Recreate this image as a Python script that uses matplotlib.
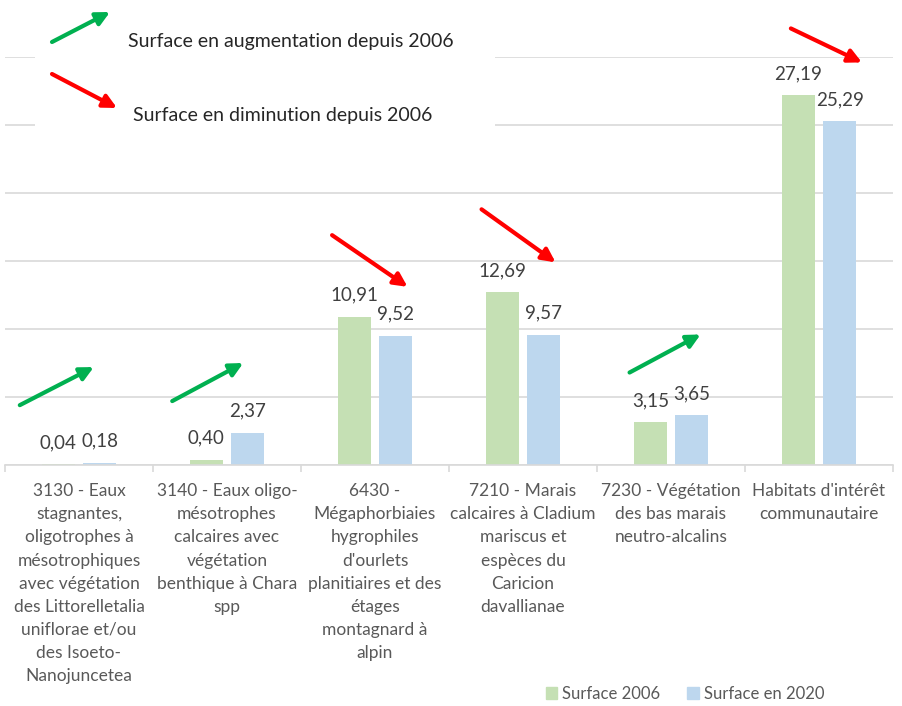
import matplotlib.pyplot as plt
from matplotlib.patches import Rectangle, Patch

plt.rcParams['font.family'] = ['Lato', 'DejaVu Sans']

categories = [
    "3130 - Eaux\nstagnantes,\noligotrophes à\nmésotrophiques\navec végétation\ndes Littorelletalia\nuniflorae et/ou\ndes Isoeto-\nNanojuncetea",
    "3140 - Eaux oligo-\nmésotrophes\ncalcaires avec\nvégétation\nbenthique à Chara\nspp",
    "6430 -\nMégaphorbiaies\nhygrophiles\nd'ourlets\nplanitiaires et des\nétages\nmontagnard à\nalpin",
    "7210 - Marais\ncalcaires à Cladium\nmariscus et\nespèces du\nCaricion\ndavallianae",
    "7230 - Végétation\ndes bas marais\nneutro-alcalins",
    "Habitats d'intérêt\ncommunautaire",
]
surface_2006 = [0.04, 0.40, 10.91, 12.69, 3.15, 27.19]
surface_2020 = [0.18, 2.37, 9.52, 9.57, 3.65, 25.29]
series_names = ["Surface 2006", "Surface en 2020"]

# tendance par catégorie : (queue, tête) en coordonnées catégorie / valeur
trend_arrows = [
    ("up", (-0.40, 4.4), (0.10, 7.2)),
    ("up", (0.63, 4.7), (1.11, 7.5)),
    ("down", (1.71, 16.9), (2.22, 13.1)),
    ("down", (2.72, 18.8), (3.22, 14.9)),
    ("up", (3.72, 6.8), (4.20, 9.6)),
    ("down", (4.81, 32.1), (5.29, 29.6)),
]

green = "#C5E0B4"
blue = "#BDD7EE"
arrow_colors = {"up": "#00B050", "down": "#FF0000"}
text_grey = "#595959"
grid_grey = "#D9D9D9"

fig = plt.figure(figsize=(9.03, 7.06), dpi=100)
ax = fig.add_axes([5 / 903, 1 - 465 / 706, 888 / 903, 408 / 706])

x = list(range(len(categories)))
w = 0.225
off = 0.139
b1 = ax.bar([i - off for i in x], surface_2006, w, color=green, zorder=2)
b2 = ax.bar([i + off for i in x], surface_2020, w, color=blue, zorder=2)

for bars, vals in ((b1, surface_2006), (b2, surface_2020)):
    for r, v in zip(bars, vals):
        ax.annotate(f"{v:.2f}".replace(".", ","),
                    (r.get_x() + r.get_width() / 2, v),
                    xytext=(0, 15.5), textcoords="offset points",
                    ha="center", va="center", fontsize=13.5, color="#404040")

ax.set_xlim(-0.5, len(categories) - 0.5)
ax.set_ylim(0, 30)
ax.set_yticks(range(0, 31, 5))
ax.yaxis.grid(True, color=grid_grey, lw=1.2)
ax.set_axisbelow(True)
ax.tick_params(axis="y", left=False, labelleft=False)
for s in ("top", "left", "right"):
    ax.spines[s].set_visible(False)
ax.spines["bottom"].set_color(grid_grey)
ax.spines["bottom"].set_linewidth(1.2)

ax.set_xticks(x)
ax.set_xticklabels(categories, fontsize=12.5, color=text_grey, linespacing=1.55, va="top")
ax.tick_params(axis="x", which="major", length=0, pad=13)
ax.set_xticks([i - 0.5 for i in range(len(categories) + 1)], minor=True)
ax.tick_params(axis="x", which="minor", length=5, color=grid_grey, width=1.2)

# cadre blanc de la légende des flèches
ax.add_patch(Rectangle((-0.297, 23.9), 3.11, 12, facecolor="white",
                       edgecolor="none", zorder=1.5, clip_on=False))

for kind, tail, head in trend_arrows:
    ax.annotate("", xy=head, xytext=tail, annotation_clip=False,
                arrowprops=dict(arrowstyle="-|>", color=arrow_colors[kind], lw=3,
                                mutation_scale=20, shrinkA=0, shrinkB=0), zorder=4)

# légende des flèches
fig_arrow = dict(arrowstyle="-|>", lw=3, mutation_scale=20, shrinkA=0, shrinkB=0)
fig.add_artist(plt.Annotation("", xy=(110, 694), xytext=(52, 664), xycoords="figure pixels",
                              arrowprops=dict(fig_arrow, color=arrow_colors["up"])))
fig.add_artist(plt.Annotation("", xy=(117, 598), xytext=(52, 632), xycoords="figure pixels",
                              arrowprops=dict(fig_arrow, color=arrow_colors["down"])))
fig.text(128 / 903, 1 - 42 / 706, "Surface en augmentation depuis 2006",
         fontsize=14, color="#262626", va="center", ha="left")
fig.text(133 / 903, 1 - 116 / 706, "Surface en diminution depuis 2006",
         fontsize=14, color="#262626", va="center", ha="left")

handles = [Patch(color=green, label=series_names[0]), Patch(color=blue, label=series_names[1])]
fig.legend(handles=handles, loc="center", bbox_to_anchor=(685 / 903, 1 - 694 / 706),
           ncol=2, frameon=False, fontsize=12, handlelength=0.7, handleheight=0.7,
           handletextpad=0.3, columnspacing=1.6, labelcolor=text_grey)

fig.savefig("out.png", dpi=100)
